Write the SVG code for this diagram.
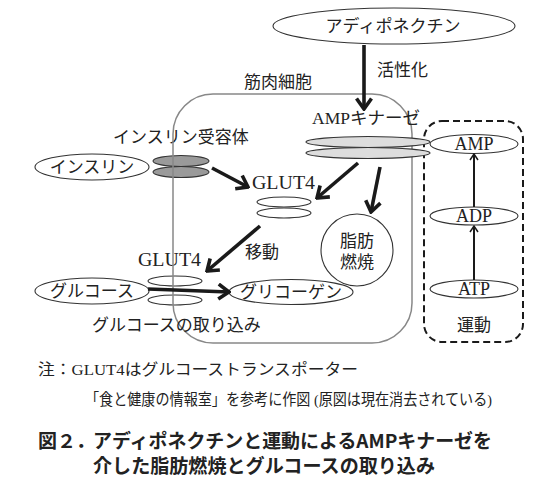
<svg xmlns="http://www.w3.org/2000/svg" width="550" height="488" viewBox="0 0 550 488">
<style>
text{font-family:"Liberation Serif","Noto Sans CJK JP",serif;font-size:17px;fill:#222}
.c{text-anchor:middle}
.ol{fill:none;stroke:#333;stroke-width:1.1}
.wh{fill:#fff;stroke:#333;stroke-width:1.1}
.rec{fill:#9a9a9a;stroke:#333;stroke-width:1.1}
.amk{fill:#ddd;stroke:#333;stroke-width:1.1}
.thick{stroke:#1a1a1a;stroke-width:3.6;fill:none;marker-end:url(#big)}
.thin{stroke:#1a1a1a;stroke-width:2;fill:none;marker-end:url(#small)}
.cap{font-family:"Noto Sans CJK JP","Liberation Sans",sans-serif;font-weight:bold;font-size:19px;fill:#222}
.note{font-size:15.5px}
.lat{font-size:18px}
</style>
<defs>
<marker id="big" viewBox="0 0 14 18" refX="12" refY="9" markerWidth="14" markerHeight="18" markerUnits="userSpaceOnUse" orient="auto">
<path d="M1.5,1.5 L12,9 L1.5,16.5" fill="none" stroke="#1a1a1a" stroke-width="3.6" stroke-linejoin="miter"/>
</marker>
<marker id="small" viewBox="0 0 8 10" refX="7" refY="5" markerWidth="8" markerHeight="10" markerUnits="userSpaceOnUse" orient="auto">
<path d="M1,1 L7,5 L1,9" fill="none" stroke="#1a1a1a" stroke-width="1.5"/>
</marker>
</defs>

<g id="exercise-box">
<rect x="424" y="121" width="99" height="221" rx="18" fill="none" stroke="#1a1a1a" stroke-width="2" stroke-dasharray="7,4"/>
<text class="c" x="474" y="331">運動</text>
</g>

<g id="receptor">
<ellipse class="rec" cx="181" cy="161" rx="28" ry="5.5"/>
<ellipse class="rec" cx="181" cy="172" rx="28" ry="5.5"/>
<text x="113" y="143">インスリン受容体</text>
</g>

<g id="glut4-membrane">
<ellipse class="wh" cx="175" cy="281" rx="27" ry="5"/>
<ellipse class="wh" cx="175" cy="300" rx="27" ry="5"/>
<text class="lat" x="138" y="266" textLength="63" lengthAdjust="spacingAndGlyphs">GLUT4</text>
</g>

<g id="cell">
<rect x="173" y="94" width="239" height="249" rx="40" fill="none" stroke="#888" stroke-width="1.5"/>
<text x="244" y="88">筋肉細胞</text>
</g>

<g id="ampk">
<ellipse class="amk" cx="368" cy="142" rx="62" ry="5.5"/>
<ellipse class="amk" cx="368" cy="153" rx="62" ry="5.5"/>
<text x="312" y="124" textLength="108" lengthAdjust="spacingAndGlyphs">AMPキナーゼ</text>
</g>

<g id="adiponectin">
<ellipse class="wh" cx="394" cy="26" rx="121" ry="18"/>
<text class="c" x="393" y="32">アディポネクチン</text>
</g>

<g id="insulin">
<ellipse class="wh" cx="92" cy="167" rx="57" ry="13"/>
<text class="c" x="92" y="173">インスリン</text>
</g>

<g id="glut4-vesicle">
<ellipse class="wh" cx="284" cy="202" rx="27" ry="5"/>
<ellipse class="wh" cx="284" cy="213" rx="27" ry="5"/>
<text class="lat" x="252" y="189" textLength="63" lengthAdjust="spacingAndGlyphs">GLUT4</text>
</g>

<g id="fat-burning">
<circle class="ol" cx="357" cy="250" r="36"/>
<text class="c" x="357" y="247">脂肪</text>
<text class="c" x="357" y="268">燃焼</text>
</g>

<g id="glucose">
<ellipse class="wh" cx="92" cy="291" rx="57" ry="13"/>
<text class="c" x="92" y="297">グルコース</text>
</g>

<g id="glycogen">
<ellipse class="ol" cx="291" cy="292" rx="62" ry="12.5"/>
<text class="c" x="291" y="298">グリコーゲン</text>
</g>

<g id="amp">
<ellipse class="wh" cx="474" cy="144" rx="44" ry="9.5"/>
<text class="c lat" x="474" y="150">AMP</text>
</g>
<g id="adp">
<ellipse class="wh" cx="474" cy="216" rx="44" ry="9"/>
<text class="c lat" x="474" y="222">ADP</text>
</g>
<g id="atp">
<ellipse class="wh" cx="474" cy="289" rx="44" ry="9"/>
<text class="c lat" x="474" y="295">ATP</text>
</g>

<g id="connectors">
<line class="thick" x1="364" y1="45" x2="364" y2="109"/>
<line class="thick" x1="212" y1="168" x2="248" y2="187"/>
<line class="thick" x1="358" y1="163" x2="317" y2="198"/>
<line class="thick" x1="380" y1="167" x2="371" y2="212"/>
<line class="thick" x1="260" y1="226" x2="207" y2="271"/>
<line class="thick" x1="148" y1="289" x2="229" y2="292"/>
<line class="thin" x1="474" y1="280" x2="474" y2="226"/>
<line class="thin" x1="474" y1="207" x2="474" y2="154"/>
<text x="377" y="76">活性化</text>
<text x="245" y="258">移動</text>
<text x="92" y="331">グルコースの取り込み</text>
</g>

<g id="notes">
<text class="note" x="38" y="375" textLength="320" lengthAdjust="spacingAndGlyphs">注：GLUT4はグルコーストランスポーター</text>
<text class="note" x="85" y="405" textLength="407" lengthAdjust="spacingAndGlyphs">「食と健康の情報室」を参考に作図 (原図は現在消去されている)</text>
<text class="cap" x="38" y="448">図２．</text>
<text class="cap" x="93" y="448" textLength="399" lengthAdjust="spacingAndGlyphs">アディポネクチンと運動によるAMPキナーゼを</text>
<text class="cap" x="93" y="473" textLength="342" lengthAdjust="spacingAndGlyphs">介した脂肪燃焼とグルコースの取り込み</text>
</g>
</svg>
